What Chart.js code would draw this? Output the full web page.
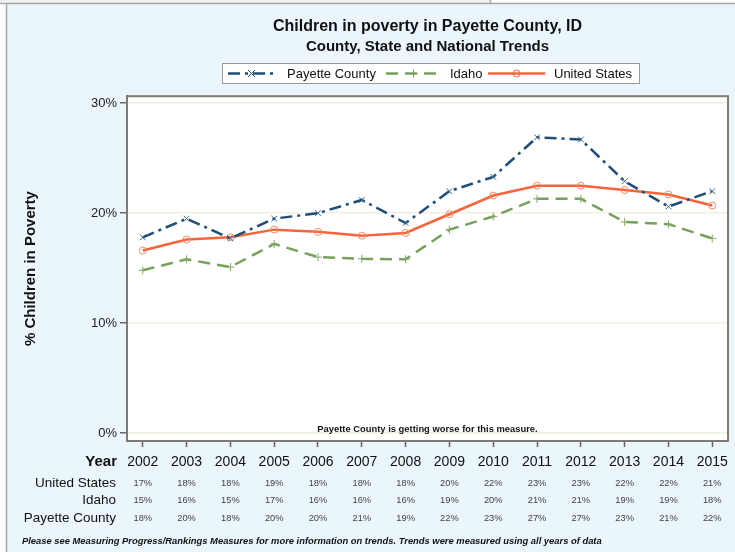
<!DOCTYPE html>
<html>
<head>
<meta charset="utf-8">
<script src="https://cdn.jsdelivr.net/npm/chart.js@4/dist/chart.umd.min.js"></script>
<style>
  html, body { margin: 0; padding: 0; background: #fff; }
  canvas { display: block; }
</style>
</head>
<body>
<canvas id="c" width="735" height="552"></canvas>
<script>
// years on the x axis
const years = [2002, 2003, 2004, 2005, 2006, 2007, 2008, 2009, 2010, 2011, 2012, 2013, 2014, 2015];

// plotted values (percent)
const payette = [17.8, 19.5, 17.7, 19.5, 20.0, 21.2, 19.1, 22.0, 23.3, 26.9, 26.7, 22.9, 20.6, 22.0];
const idaho = [14.8, 15.8, 15.1, 17.2, 16.0, 15.85, 15.8, 18.5, 19.7, 21.3, 21.3, 19.2, 19.0, 17.7];
const unitedStates = [16.6, 17.6, 17.8, 18.5, 18.3, 17.95, 18.2, 19.9, 21.6, 22.5, 22.5, 22.1, 21.7, 20.7];

// rounded values printed in the table under the chart
const tableUS = ["17%", "18%", "18%", "19%", "18%", "18%", "18%", "20%", "22%", "23%", "23%", "22%", "22%", "21%"];
const tableIdaho = ["15%", "16%", "15%", "17%", "16%", "16%", "16%", "19%", "20%", "21%", "21%", "19%", "19%", "18%"];
const tablePayette = ["18%", "20%", "18%", "20%", "20%", "21%", "19%", "22%", "23%", "27%", "27%", "23%", "21%", "22%"];

const yTicks = [0, 10, 20, 30];

const FONT = "'Liberation Sans', Arial, sans-serif";
const BLUE = "#1f4e79";
const GREEN = "#77a05a";
const ORANGE = "#f8643a";
const DASHDOT = [12, 5, 3, 5];
const DASH = [12, 7];

const pts = arr => years.map((x, i) => ({ x, y: arr[i] }));

const background = {
  id: "background",
  beforeDraw(chart) {
    const { ctx, chartArea: a } = chart;
    ctx.save();
    ctx.fillStyle = "#ffffff";
    ctx.fillRect(0, 0, 735, 552);
    ctx.fillStyle = "#f0f0f0";
    ctx.fillRect(0, 0, 490, 3);
    ctx.fillStyle = "#eaf5fc";
    ctx.fillRect(7, 4, 728, 548);
    ctx.strokeStyle = "#a8a8a8";
    ctx.lineWidth = 1.5;
    ctx.beginPath();
    ctx.moveTo(0, 3.5); ctx.lineTo(735, 3.5);
    ctx.moveTo(6.5, 3.5); ctx.lineTo(6.5, 552);
    ctx.moveTo(490.5, 0); ctx.lineTo(490.5, 3.5);
    ctx.stroke();
    ctx.fillStyle = "#ffffff";
    ctx.fillRect(a.left, a.top, a.right - a.left, a.bottom - a.top);
    ctx.restore();
  }
};

function marker(ctx, kind, x, y, color) {
  ctx.save();
  ctx.setLineDash([]);
  ctx.strokeStyle = color;
  ctx.lineWidth = 1;
  ctx.beginPath();
  if (kind === "x") {
    ctx.moveTo(x - 3.5, y - 3.5); ctx.lineTo(x + 3.5, y + 3.5);
    ctx.moveTo(x - 3.5, y + 3.5); ctx.lineTo(x + 3.5, y - 3.5);
  } else if (kind === "+") {
    ctx.moveTo(x - 4, y); ctx.lineTo(x + 4, y);
    ctx.moveTo(x, y - 4); ctx.lineTo(x, y + 4);
  } else {
    ctx.arc(x, y, 3.5, 0, Math.PI * 2);
  }
  ctx.stroke();
  ctx.restore();
}

const extras = {
  id: "extras",
  afterDraw(chart) {
    const { ctx, chartArea: a } = chart;
    const xs = chart.scales.x;
    ctx.save();

    // plot frame
    ctx.strokeStyle = "#7f7b74";
    ctx.lineWidth = 2;
    ctx.strokeRect(a.left, a.top, a.right - a.left, a.bottom - a.top);

    // note inside the plot
    ctx.fillStyle = "#111";
    ctx.font = "bold 9.4px " + FONT;
    ctx.textAlign = "center";
    ctx.textBaseline = "middle";
    ctx.fillText("Payette County is getting worse for this measure.", (a.left + a.right) / 2, 429);

    // legend
    ctx.fillStyle = "#ffffff";
    ctx.fillRect(222, 63, 417, 20);
    ctx.strokeStyle = "#9a9a9a";
    ctx.lineWidth = 1;
    ctx.strokeRect(222.5, 63.5, 417, 20);
    const items = [
      { x0: 228, x1: 275, tx: 287, color: BLUE, dash: DASHDOT, mk: "x", label: "Payette County" },
      { x0: 386, x1: 441, tx: 450, color: GREEN, dash: DASH, mk: "+", label: "Idaho" },
      { x0: 488, x1: 545, tx: 554, color: ORANGE, dash: [], mk: "o", label: "United States" }
    ];
    items.forEach(it => {
      ctx.strokeStyle = it.color;
      ctx.lineWidth = 2.5;
      ctx.setLineDash(it.dash);
      ctx.beginPath();
      ctx.moveTo(it.x0, 73.5); ctx.lineTo(it.x1, 73.5);
      ctx.stroke();
      marker(ctx, it.mk, (it.x0 + it.x1) / 2, 73.5, it.color);
      ctx.setLineDash([]);
      ctx.fillStyle = "#111";
      ctx.font = "13px " + FONT;
      ctx.textAlign = "left";
      ctx.fillText(it.label, it.tx, 74);
    });

    // table under the x axis
    ctx.textAlign = "right";
    ctx.fillStyle = "#111";
    ctx.font = "bold 15px " + FONT;
    ctx.fillText("Year", 117, 462);
    const rows = [
      { label: "United States", vals: tableUS, y: 483 },
      { label: "Idaho", vals: tableIdaho, y: 500.5 },
      { label: "Payette County", vals: tablePayette, y: 518 }
    ];
    rows.forEach(r => {
      ctx.textAlign = "right";
      ctx.fillStyle = "#111";
      ctx.font = "13.5px " + FONT;
      ctx.fillText(r.label, 116, r.y);
      ctx.textAlign = "center";
      ctx.fillStyle = "#444";
      ctx.font = "9.3px " + FONT;
      years.forEach((yr, i) => ctx.fillText(r.vals[i], xs.getPixelForValue(yr), r.y));
    });

    // footnote
    ctx.textAlign = "left";
    ctx.fillStyle = "#111";
    ctx.font = "italic bold 9.4px " + FONT;
    ctx.fillText("Please see Measuring Progress/Rankings Measures for more information on trends. Trends were measured using all years of data", 22, 541);

    ctx.restore();
  }
};

new Chart(document.getElementById("c"), {
  type: "line",
  data: {
    datasets: [
      {
        label: "Payette County", data: pts(payette),
        borderColor: BLUE, borderWidth: 2.5, borderDash: DASHDOT,
        pointStyle: "crossRot", pointRadius: 4, pointBorderWidth: 1,
        pointBorderColor: "#3a6a96", pointBackgroundColor: "transparent", tension: 0
      },
      {
        label: "Idaho", data: pts(idaho),
        borderColor: GREEN, borderWidth: 2.5, borderDash: DASH,
        pointStyle: "cross", pointRadius: 4, pointBorderWidth: 1,
        pointBorderColor: "#86aa6a", pointBackgroundColor: "transparent", tension: 0
      },
      {
        label: "United States", data: pts(unitedStates),
        borderColor: ORANGE, borderWidth: 2.5,
        pointStyle: "circle", pointRadius: 3.5, pointBorderWidth: 1,
        pointBorderColor: "#fb8a68", pointBackgroundColor: "transparent", tension: 0
      }
    ]
  },
  options: {
    responsive: false,
    animation: false,
    devicePixelRatio: 1,
    layout: { padding: { left: 0, right: 3, top: 0, bottom: 0 } },
    plugins: {
      legend: { display: false },
      tooltip: { enabled: false },
      title: {
        display: true, fullSize: false,
        text: "Children in poverty in Payette County, ID",
        color: "#111", font: { family: FONT, size: 16, weight: "bold" },
        padding: { top: 17, bottom: 0 }
      },
      subtitle: {
        display: true, fullSize: false,
        text: "County, State and National Trends",
        color: "#111", font: { family: FONT, size: 15, weight: "bold" },
        padding: { top: 2, bottom: 40 }
      }
    },
    scales: {
      x: {
        type: "linear",
        min: 2001.64, max: 2015.36,
        afterBuildTicks: s => { s.ticks = years.map(v => ({ value: v })); },
        afterFit: s => { s.height = 111; },
        grid: { drawOnChartArea: false, tickColor: "#666", tickLength: 6, tickWidth: 1.5 },
        border: { display: true, color: "#7f7b74", width: 2 },
        ticks: {
          autoSkip: false, maxRotation: 0, padding: 7,
          color: "#111", font: { family: FONT, size: 14 },
          callback: v => String(v)
        }
      },
      y: {
        type: "linear",
        min: -0.73, max: 30.64,
        afterBuildTicks: s => { s.ticks = yTicks.map(v => ({ value: v })); },
        afterFit: s => { s.width = 127; },
        grid: { color: "#f2efe2", lineWidth: 1.5, tickColor: "#666", tickLength: 7, tickWidth: 1.5 },
        border: { display: true, color: "#7f7b74", width: 2 },
        ticks: {
          padding: 3, color: "#222", font: { family: FONT, size: 13 },
          callback: v => v + "%"
        },
        title: {
          display: true, text: "% Children in Poverty",
          color: "#111", font: { family: FONT, size: 15, weight: "bold" },
          padding: { top: 22, bottom: 0 }
        }
      }
    }
  },
  plugins: [background, extras]
});
</script>
</body>
</html>
